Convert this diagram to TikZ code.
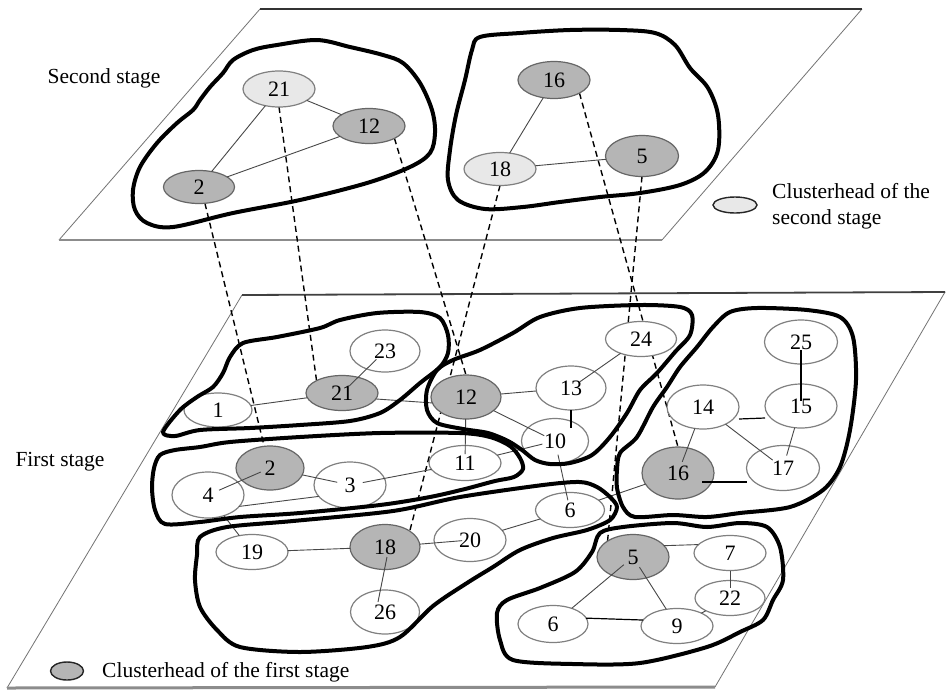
\documentclass[tikz,border=0pt]{standalone}
\usepackage{fontspec}
\setmainfont{Liberation Serif}
\usetikzlibrary{shapes.geometric}
\pgfdeclarelayer{back}
\pgfdeclarelayer{mid}
\pgfsetlayers{back,mid,main}
\begin{document}
\begin{tikzpicture}[x=1pt,y=-1pt,
  nd/.style={ellipse, draw=black!50, line width=1.2pt, inner sep=0pt, outer sep=0pt,
             font=\fontsize{22}{22}\selectfont},
  wn/.style={nd, fill=white},
  dn/.style={nd, fill=black!29, draw=black!60},
  ln/.style={nd, fill=black!9},
  sz/.style 2 args={minimum width=#1pt, minimum height=#2pt},
  edge/.style={draw=black!72, line width=0.9pt},
  edgeb/.style={draw=black, line width=1.2pt},
  link/.style={draw=black, line width=1.4pt, dash pattern=on 6pt off 4pt},
  cluster/.style={draw=black, line width=4pt, line join=round},
  lbl/.style={inner sep=0pt, font=\fontsize{21.5}{26}\selectfont},
]
\useasboundingbox (0,0) rectangle (947,691);

% ---- the two planes ----
\begin{pgfonlayer}{back}
  \fill[white] (0,0) rectangle (947,691);
  % second stage plane
  \draw[black!55, line width=0.8pt] (260,9) -- (59,240);
  \draw[black!55, line width=0.8pt] (862,9) -- (662,240);
  \draw[black!80, line width=1.4pt] (260,9) -- (862,9);
  \draw[black!45, line width=2.4pt] (59,240) -- (662,240);
  % first stage plane
  \draw[black!55, line width=0.8pt] (242,295) -- (7,688);
  \draw[black!55, line width=0.8pt] (945,292) -- (715,687);
  \draw[black!75, line width=1.8pt] (242,295) -- (945,292);
  \draw[black!45, line width=3pt] (7,688) -- (715,687);
\end{pgfonlayer}

% ---- stage labels ----
\node[lbl] (lab2) at (104,78) {Second stage};
\node[lbl] (lab1) at (60,462) {First stage};

% ---- second stage nodes ----
\node[ln, sz={72}{36}] (s21) at (279,89) {21};
\node[dn, sz={72}{35}] (s12) at (369,126) {12};
\node[dn, sz={71}{33}] (s2)  at (199,187) {2};
\node[dn, sz={72}{37}] (s16) at (554,80) {16};
\node[ln, sz={72}{33}] (s18) at (500,169) {18};
\node[dn, sz={73}{41}] (s5)  at (642,156) {5};

\draw[edge] (s21) -- (s2);
\draw[edge] (s21) -- (s12);
\draw[edge] (s2) -- (s12);
\draw[edge] (s16) -- (s18);
\draw[edge] (s18) -- (s5);

% ---- first stage nodes ----
\node[wn, sz={70}{42}] (f23) at (385,351) {23};
\node[dn, sz={72}{35}] (f21) at (342,393) {21};
\node[wn, sz={68}{34}] (f1)  at (218,410) {1};
\node[dn, sz={70}{44}] (f12) at (466,397) {12};
\node[dn, sz={68}{44}] (f2)  at (270,468) {2};
\node[wn, sz={72}{46}] (f4)  at (208,495) {4};
\node[wn, sz={72}{46}] (f3)  at (350,485) {3};
\node[wn, sz={72}{35}] (f11) at (465,463) {11};
\node[wn, sz={70}{44}] (f13) at (571,388) {13};
\node[wn, sz={71}{35}] (f24) at (641,339) {24};
\node[wn, sz={67}{45}] (f10) at (555,441) {10};
\node[wn, sz={69}{35}] (f6a) at (570,510) {6};
\node[wn, sz={73}{44}] (f25) at (801,342) {25};
\node[wn, sz={72}{44}] (f14) at (703,407) {14};
\node[wn, sz={72}{44}] (f15) at (801,406) {15};
\node[dn, sz={72}{52}] (f16) at (678,473) {16};
\node[wn, sz={73}{45}] (f17) at (783,468) {17};
\node[wn, sz={72}{35}] (f19) at (252,552) {19};
\node[dn, sz={70}{45}] (f18) at (385,547) {18};
\node[wn, sz={69}{44}] (f26) at (385,612) {26};
\node[wn, sz={72}{43}] (f20) at (470,540) {20};
\node[wn, sz={70}{35}] (f22) at (730,598) {22};
\node[wn, sz={72}{35}] (f9)  at (677,626) {9};
\node[dn, sz={72}{45}] (f5)  at (633,557) {5};
\node[wn, sz={72}{35}] (f7)  at (730,553) {7};
\node[wn, sz={70}{37}] (f6b) at (553,624) {6};

% ---- links between the stages ----
\begin{pgfonlayer}{mid}
  \draw[link] (s2.-70) -- (f2.105);
  \draw[link] (s21.south) -- (f21.north west);
  \draw[link] (s12.south east) -- (f12.north);
  \draw[link] (s18.south) -- (f18.north east);
  \draw[link] (s16.south east) -- (f16.north);
  \draw[link] (s5.south) -- (f5.north west);
\end{pgfonlayer}

% ---- first stage edges ----
\draw[edge] (f1) -- (f21);
\draw[edge, shorten <=10pt, shorten >=12pt] (f21.center) -- (f23.center);
\draw[edge] (f21.-10) -- (f12.-170);
\draw[edge] (f12) -- (f13);
\draw[edge, shorten >=12pt] (f12) -- (f10.center);
\draw[edge, shorten >=9pt] (f12) -- (f11.center);
\path (f13.south |- f10.north) ++(0,9) coordinate (t10);
\draw[edgeb] (f13.south) -- (t10);
\draw[edge, shorten <=11pt] (f13.center) -- (f24);
\draw[edge, shorten <=14pt, shorten >=10pt] (f10.center) -- (f6a.center);
\draw[edge, shorten <=13pt] (f10.center) -- (f11);
\draw[edge, shorten <=10pt, shorten >=12pt] (f2.center) -- (f4.center);
\draw[edge, shorten >=13pt] (f2) -- (f3.center);
\draw[edge, shorten <=13pt] (f3.center) -- (f11);
\draw[edge] (f4.-20) -- (f3.-160);
\draw[edge] (f4) -- (f19);
\draw[edge] (f19) -- (f18);
\draw[edge, shorten >=8pt] (f18) -- (f20.center);
\draw[edge] ([xshift=2pt,yshift=-10pt]f18.center) -- ([xshift=-7pt,yshift=10pt]f26.center);
\draw[edge] (f20) -- (f6a);
\draw[edge] (f16) -- (f6a);
\draw[edgeb] ([yshift=-12pt]f14.east) -- ([yshift=-12pt]f15.west);
\draw[edge, shorten >=12pt] (f14) -- (f16.center);
\draw[edge, shorten >=13pt] (f14) -- (f17.center);
\draw[edgeb] ([yshift=-8pt]f25.center) -- ([yshift=5pt]f15.center);
\draw[edge, shorten >=13pt] (f15) -- (f17.center);
\draw[edgeb] ([xshift=24pt,yshift=-9pt]f16.center) -- ([yshift=-14pt]f17.west);
\draw[edge] (f5.20) -- (f7.165);
\draw[edge, shorten <=12pt] (f5.center) -- (f6b);
\draw[edge, shorten <=12pt] (f5.center) -- (f9);
\draw[edgeb] (f6b.10) -- (f9.170);
\draw[edge, shorten >=10pt] (f7) -- (f22.center);
\draw[edge] (f9) -- (f22);

% ---- clusters, second stage ----
\draw[cluster] plot[smooth cycle, tension=0.55] coordinates {
  (223,73) (233,60) (253,50) (277,45) (317,40) (350,47) (383,55) (403,63)
  (420,83) (432,110) (435,133) (430,153) (410,167) (367,183) (300,200)
  (233,213) (173,227) (147,223) (135,210) (133,190) (140,167) (157,143)
  (177,123) (193,110) (200,100) (210,87)};
\draw[cluster] plot[smooth cycle, tension=0.55] coordinates {
  (480,37) (520,33) (570,30) (620,30) (655,33) (675,45) (690,68) (708,88)
  (718,115) (718,150) (705,172) (680,185) (640,193) (600,197) (560,202)
  (523,207) (485,209) (458,200) (448,180) (450,150) (456,115) (465,80) (472,50)};

% ---- clusters, first stage ----
% 1, 21, 23
\draw[cluster] plot[smooth cycle, tension=0.5] coordinates {
  (163,432) (180,410) (197,397) (213,387) (223,373) (230,357) (243,343)
  (277,337) (320,328) (340,320) (377,313) (420,312) (440,318) (448,335)
  (448,353) (440,367) (420,383) (400,400) (380,413) (350,421) (300,425)
  (250,428) (200,430) (175,436)};
% 2, 3, 4, 11
\draw[cluster] plot[smooth cycle, tension=0.5] coordinates {
  (160,455) (175,450) (200,447) (230,442) (300,437) (380,433) (460,433)
  (490,437) (510,446) (520,458) (523,469) (514,477) (495,481) (465,489)
  (430,497) (380,505) (300,513) (240,517) (200,522) (165,524) (155,510)
  (152,488) (154,468)};
% 10, 12, 13, 24
\draw[cluster] plot[smooth cycle, tension=0.5] coordinates {
  (437,370) (453,360) (480,350) (513,333) (540,317) (580,308) (640,305)
  (680,307) (692,315) (690,335) (675,352) (657,373) (640,390) (627,413)
  (610,437) (592,455) (570,463) (550,464) (535,460) (522,450) (508,441)
  (488,433) (463,429) (437,423) (427,410) (427,390)};
% 14, 15, 16, 17, 25
\draw[cluster] plot[smooth cycle, tension=0.5] coordinates {
  (617,470) (620,453) (637,437) (653,407) (667,387) (680,367) (697,347)
  (713,327) (730,312) (757,308) (807,310) (840,317) (853,337) (856,380)
  (850,430) (840,467) (823,490) (790,507) (740,513) (707,517) (673,515)
  (635,517) (623,507) (617,488)};
% 6, 18, 19, 20, 26
\draw[cluster] plot[smooth cycle, tension=0.5] coordinates {
  (200,537) (227,527) (293,521) (393,511) (460,497) (543,485) (580,482)
  (597,487) (610,497) (617,507) (610,520) (587,530) (553,538) (520,550)
  (493,567) (467,583) (433,606) (400,637) (367,647) (300,652) (240,647)
  (217,630) (200,607) (195,580) (197,555)};
% 5, 6, 7, 9, 22
\draw[cluster] plot[smooth cycle, tension=0.5] coordinates {
  (600,533) (623,527) (673,523) (707,527) (740,523) (767,527) (780,547)
  (783,580) (773,600) (763,620) (740,632) (707,647) (640,663) (573,664)
  (513,660) (500,640) (497,613) (507,600) (540,588) (575,572) (592,552)};

% ---- legend ----
\node[dn, sz={33}{18}, draw=black!85, line width=1.4pt] (k1) at (67,671) {};
\node[lbl, anchor=west] (k1t) at (102,672) {Clusterhead of the first stage};
\node[ln, sz={44}{16}, draw=black!85, line width=1.4pt] (k2) at (735,205) {};
\node[lbl, anchor=west, align=left] (k2t) at (772,206) {Clusterhead of the\\second stage};
\end{tikzpicture}
\end{document}
